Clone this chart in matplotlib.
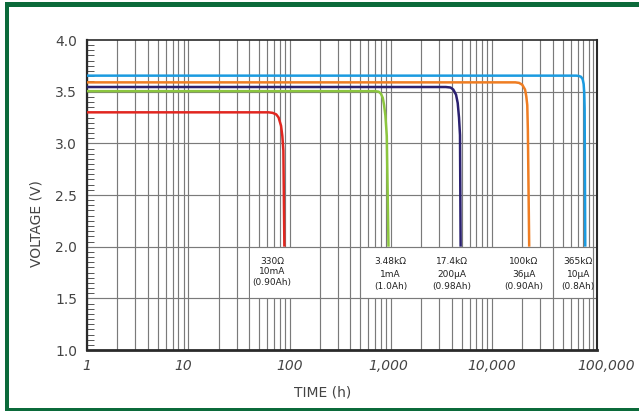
import numpy as np
import matplotlib.pyplot as plt
from matplotlib.patches import Rectangle
from matplotlib.ticker import MultipleLocator, LogLocator, NullFormatter

# discharge curves: time (h) vs voltage (V)
red_t = [1, 62, 68, 74, 78, 82.5, 85, 87, 89]
red_v = [3.30, 3.30, 3.295, 3.28, 3.25, 3.17, 3.07, 2.93, 2.0]

green_t = [1, 700, 760, 800, 834, 859, 885, 914, 950]
green_v = [3.505, 3.505, 3.50, 3.48, 3.44, 3.37, 3.27, 3.07, 2.0]

navy_t = [1, 3500, 3900, 4150, 4415, 4585, 4722, 4830, 4900]
navy_v = [3.545, 3.545, 3.54, 3.52, 3.47, 3.39, 3.25, 3.08, 2.0]

orange_t = [1, 17000, 18500, 19900, 21200, 21800, 22300, 22600, 23300]
orange_v = [3.59, 3.59, 3.585, 3.567, 3.52, 3.456, 3.37, 3.135, 2.0]

blue_t = [1, 68000, 72000, 75700, 78600, 80400, 81500, 82200, 83400]
blue_v = [3.655, 3.655, 3.652, 3.644, 3.62, 3.574, 3.49, 3.34, 2.0]

curves = [
    (red_t, red_v, "#e1261f"),
    (green_t, green_v, "#8cc63f"),
    (navy_t, navy_v, "#2b2170"),
    (orange_t, orange_v, "#ef7d22"),
    (blue_t, blue_v, "#1b9be0"),
]

# load labels and where they sit
label_texts = ["330\u03a9\n10mA\n(0.90Ah)",
               "3.48k\u03a9\n1mA\n(1.0Ah)",
               "17.4k\u03a9\n200\u00b5A\n(0.98Ah)",
               "100k\u03a9\n36\u00b5A\n(0.90Ah)",
               "365k\u03a9\n10\u00b5A\n(0.8Ah)"]
label_t = [67, 1000, 4000, 20700, 71000]
label_v = [1.755, 1.735, 1.735, 1.735, 1.735]

# white patches behind the labels (time ranges)
box_ranges = [(40.7, 118), (520, 39000), (42900, 97000)]

x_ticks = [1, 10, 100, 1000, 10000, 100000]
x_ticklabels = ["1", "10", "100", "1,000", "10,000", "100,000"]
x_label_shift = [0, -5, 0, -2, 0, 13]
y_ticks = [1.0, 1.5, 2.0, 2.5, 3.0, 3.5, 4.0]

plt.rcParams['font.family'] = ['DejaVu Sans']
text_col = "#444444"
grid_col = "#7a7a7a"

fig = plt.figure(figsize=(6.39, 4.12), dpi=100)
ax = fig.add_axes([87 / 639, 62 / 412, 510.3 / 639, 310 / 412])
ax.set_xscale('log')
ax.set_xlim(1, 10 ** 5.04)
ax.set_ylim(1.0, 4.0)
ax.set_axisbelow(True)

# vertical grid
ax.xaxis.set_major_locator(LogLocator(base=10))
ax.xaxis.set_minor_locator(LogLocator(base=10, subs=np.arange(2, 10)))
ax.xaxis.set_major_formatter(NullFormatter())
ax.xaxis.set_minor_formatter(NullFormatter())
ax.grid(which='both', axis='x', color=grid_col, lw=0.85)
ax.tick_params(axis='x', which='both', length=0)

# label boxes cover vertical grid only
for x0, x1 in box_ranges:
    ax.add_patch(Rectangle((x0, 1.5), x1 - x0, 0.5, facecolor='white',
                           edgecolor='none', zorder=1))

# horizontal grid on top of the boxes
for y in y_ticks[1:-1]:
    ax.axhline(y, color=grid_col, lw=0.85, zorder=1.2)

for t, v, c in curves:
    ax.plot(t, v, color=c, lw=1.8, zorder=3, solid_joinstyle='round',
            solid_capstyle='butt')

for txt, t, v in zip(label_texts, label_t, label_v):
    ls = 1.15 if t < 100 else 1.45
    ax.text(t, v, txt, ha='center', va='center', fontsize=6.5,
            color="#222222", linespacing=ls, zorder=4)

# y axis
ax.set_yticks(y_ticks)
ax.set_yticklabels(["%.1f" % y for y in y_ticks])
ax.yaxis.set_minor_locator(MultipleLocator(0.05))
ax.tick_params(axis='y', which='major', direction='in', length=0, pad=7,
               labelsize=10, labelcolor=text_col)
ax.tick_params(axis='y', which='minor', direction='in', length=5,
               width=0.7, color="#555555")

# x tick labels
for t, lbl, dx in zip(x_ticks, x_ticklabels, x_label_shift):
    ax.annotate(lbl, xy=(t, 0), xycoords=('data', 'axes fraction'),
                xytext=(dx, -16), textcoords='offset pixels',
                ha='center', va='center', fontsize=10, style='italic',
                color=text_col)

for side, lw in [('left', 1.6), ('bottom', 2.0), ('top', 1.2), ('right', 1.5)]:
    ax.spines[side].set_linewidth(lw)
    ax.spines[side].set_color("#2a2a2a")

fig.text(323 / 639, 1 - 393 / 412, "TIME (h)", ha='center', va='center',
         fontsize=10, color=text_col)
fig.text(37 / 639, 1 - 224 / 412, "VOLTAGE (V)", ha='center', va='center',
         rotation=90, fontsize=10, color=text_col)

# green frame
frame_col = "#0b6a3a"
fig.add_artist(Rectangle((5 / 639, 1 - 6.5 / 412), 634 / 639, 5 / 412,
                         transform=fig.transFigure, color=frame_col, lw=0))
fig.add_artist(Rectangle((5 / 639, 1.5 / 412), 4 / 639, 404 / 412,
                         transform=fig.transFigure, color=frame_col, lw=0))
fig.add_artist(Rectangle((5 / 639, 1.5 / 412), 634 / 639, 2.5 / 412,
                         transform=fig.transFigure, color=frame_col, lw=0))

fig.savefig('out.png', dpi=100)
